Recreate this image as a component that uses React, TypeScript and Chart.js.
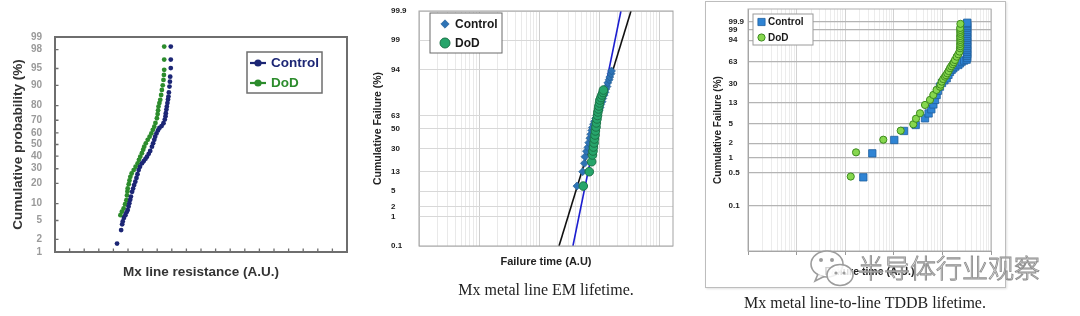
import React, { useEffect, useRef } from "react";
import { Chart, registerables } from "chart.js";

Chart.register(...registerables);

// ---------------- Panel 1: Mx line resistance (normal probability plot) ----------------
const p1YTicks = [1, 2, 5, 10, 20, 30, 40, 50, 60, 70, 80, 90, 95, 98, 99];
const p1ControlR = [4.25, 4.53, 4.6, 4.64, 4.72, 4.82, 4.9, 4.98, 5.04, 5.09, 5.15, 5.2, 5.28, 5.35, 5.42, 5.5, 5.58, 5.65, 5.73, 5.82, 5.96, 6.08, 6.2, 6.3, 6.42, 6.52, 6.64, 6.72, 6.8, 6.86, 6.95, 7.05, 7.15, 7.3, 7.43, 7.52, 7.57, 7.59, 7.63, 7.66, 7.7, 7.74, 7.77, 7.8, 7.84, 7.87, 7.89, 7.93, 7.93, 7.93];
const p1ControlP = [1.6, 3.2, 4.2, 4.8, 5.6, 6.3, 7.1, 7.8, 9.0, 10.2, 11.6, 13.0, 15.3, 17.0, 19.0, 21.0, 23.5, 26.0, 29.0, 31.5, 34.2, 36.0, 37.8, 39.6, 42.0, 44.5, 48.1, 51.0, 54.0, 56.7, 59.5, 62.0, 64.0, 65.5, 67.7, 70.5, 73.0, 75.1, 77.5, 79.4, 81.5, 83.5, 85.0, 87.0, 89.5, 91.3, 92.9, 95.1, 96.7, 98.3];
const p1DodR = [4.48, 4.58, 4.7, 4.8, 4.89, 4.93, 4.96, 4.98, 5.05, 5.1, 5.16, 5.25, 5.39, 5.52, 5.66, 5.75, 5.84, 5.95, 6.04, 6.11, 6.22, 6.35, 6.48, 6.6, 6.7, 6.8, 6.88, 6.98, 7.03, 7.06, 7.09, 7.15, 7.21, 7.27, 7.32, 7.38, 7.43, 7.46, 7.48, 7.48, 7.48];
const p1DodP = [6.3, 7.3, 8.3, 9.8, 11.4, 13.5, 15.5, 17.1, 19.5, 21.8, 24.2, 26.5, 29.0, 31.5, 34.2, 37.0, 39.6, 42.5, 45.5, 48.1, 51.0, 54.0, 56.7, 59.5, 62.5, 65.0, 68.0, 71.5, 74.5, 77.0, 79.4, 81.5, 83.3, 85.8, 88.1, 90.0, 91.9, 93.4, 94.7, 96.7, 98.3];

// ---------------- Panel 2: EM lifetime (lognormal plot) ----------------
const p2YTicks = [0.1, 1, 2, 5, 13, 30, 50, 63, 94, 99, 99.9];
const p2ControlT = [421, 524, 561, 572, 605, 640, 662, 690, 715, 742, 760, 795, 830, 862, 900, 930, 985, 1020, 1045, 1100, 1130, 1190, 1235, 1270, 1330, 1370, 1440, 1480, 1550, 1580];
const p2ControlF = [6.5, 12.8, 18.0, 22.9, 27.5, 31.0, 35.5, 40.0, 44.0, 48.0, 51.0, 54.5, 57.5, 60.5, 63.0, 65.5, 68.5, 71.0, 73.5, 76.0, 78.5, 81.0, 83.0, 85.0, 86.5, 88.5, 90.0, 91.2, 92.5, 93.5];
const p2DodT = [536, 674, 739, 762, 777, 790, 810, 820, 840, 852, 872, 885, 905, 925, 938, 960, 975, 998, 1015, 1055, 1095, 1140, 1160];
const p2DodF = [6.5, 12.8, 19.1, 24.3, 27.7, 31.3, 35.2, 39.1, 43.2, 47.4, 51.6, 55.8, 59.9, 63.4, 66.8, 69.6, 72.3, 74.9, 77.3, 79.2, 81.1, 82.8, 84.4];
const p2FitF = [0.1, 99.9];
const p2FitBlackT = [212, 3327];
const p2FitBlueT = [361, 2265];
const p2XRange = [1, 16600];

// ---------------- Panel 3: TDDB lifetime (Weibull plot) ----------------
const p3YTicks = [0.1, 0.5, 1, 2, 5, 13, 30, 63, 94, 99, 99.9];
const p3YRange = [0.0116, 99.99965];
const p3XRange = [1, 100000];
const p3ControlT = [236, 361, 1023, 1622, 2823, 4385, 5200, 5916, 6500, 7047, 7600, 8117, 8900, 9817, 11000, 12250, 13300, 14320, 15500, 16750, 18500, 21230, 23000, 24940, 28000, 31500, 32500, 32000, 32500, 32000, 32500, 32000, 32500, 32000, 32500, 32000, 32500, 32000, 32500, 32000, 32500, 32000, 32500, 32000, 32500];
const p3ControlF = [0.395, 1.24, 2.34, 3.58, 4.74, 6.47, 8.1, 9.8, 12.2, 14.9, 18.5, 22.2, 26.3, 30.5, 33.8, 36.6, 41.5, 46.0, 49.5, 52.0, 55.0, 57.7, 60.5, 63.5, 65.5, 67.0, 70.0, 73.5, 76.7, 80.0, 82.9, 85.5, 88.2, 90.5, 92.5, 94.3, 95.7, 96.8, 97.8, 98.5, 99.0, 99.4, 99.62, 99.78, 99.85];
const p3DodT = [130, 167, 608, 1387, 2518, 2863, 3460, 4385, 5560, 6500, 7570, 8930, 9200, 9675, 10400, 11300, 11900, 12600, 13400, 14330, 15200, 16290, 17200, 18160, 19680, 21230, 22500, 23010, 23400, 23200, 23500, 23300, 23400, 23200, 23500, 23300, 23400, 23200, 23500];
const p3DodF = [0.41, 1.3, 2.37, 3.63, 4.9, 6.35, 8.16, 11.9, 14.9, 18.5, 22.9, 26.2, 28.5, 32.1, 35.5, 38.8, 41.0, 43.9, 47.5, 52.1, 55.5, 59.1, 62.5, 66.5, 72.2, 76.3, 80.5, 85.3, 88.0, 90.5, 92.5, 94.2, 95.6, 96.8, 97.8, 98.5, 99.0, 99.37, 99.79];

// ---------------- helpers ----------------
const SANS = "'Liberation Sans', Arial, Helvetica, sans-serif";

function probit(p: number): number {
  const a = [-39.69683028665376, 220.9460984245205, -275.9285104469687, 138.357751867269, -30.66479806614716, 2.506628277459239];
  const b = [-54.47609879822406, 161.5858368580409, -155.6989798598866, 66.80131188771972, -13.28068155288572];
  const c = [-0.007784894002430293, -0.3223964580411365, -2.400758277161838, -2.549671324908904, 4.374664141464968, 2.938163982698783];
  const d = [0.007784695709041462, 0.3224671290700398, 2.445134137142996, 3.754408661907416];
  const pl = 0.02425;
  if (p < pl) {
    const q = Math.sqrt(-2 * Math.log(p));
    return (((((c[0] * q + c[1]) * q + c[2]) * q + c[3]) * q + c[4]) * q + c[5]) / ((((d[0] * q + d[1]) * q + d[2]) * q + d[3]) * q + 1);
  }
  if (p <= 1 - pl) {
    const q = p - 0.5;
    const r = q * q;
    return ((((((a[0] * r + a[1]) * r + a[2]) * r + a[3]) * r + a[4]) * r + a[5]) * q) / (((((b[0] * r + b[1]) * r + b[2]) * r + b[3]) * r + b[4]) * r + 1);
  }
  const q = Math.sqrt(-2 * Math.log(1 - p));
  return -(((((c[0] * q + c[1]) * q + c[2]) * q + c[3]) * q + c[4]) * q + c[5]) / ((((d[0] * q + d[1]) * q + d[2]) * q + d[3]) * q + 1);
}
function weibit(p: number): number {
  return Math.log(-Math.log(1 - p));
}
const pct = (f: (p: number) => number) => (v: number) => f(v / 100);
const zN = pct(probit);
const zW = pct(weibit);

function pts(xs: number[], ps: number[], tf: (v: number) => number) {
  return xs.map((x, i) => ({ x, y: tf(ps[i]) }));
}
function logTicks(min: number, max: number) {
  const out: { value: number; major: boolean }[] = [];
  for (let e = Math.floor(Math.log10(min)); e <= Math.ceil(Math.log10(max)); e++) {
    for (let m = 1; m < 10; m++) {
      const v = m * Math.pow(10, e);
      if (v >= min * 0.999999 && v <= max * 1.000001) out.push({ value: v, major: m === 1 });
    }
  }
  return out;
}

function framePlugin(color: string, width: number) {
  return {
    id: "frameBox",
    afterDraw(chart: any) {
      const { ctx, chartArea: a } = chart;
      ctx.save();
      ctx.strokeStyle = color;
      ctx.lineWidth = width;
      ctx.strokeRect(a.left, a.top, a.right - a.left, a.bottom - a.top);
      ctx.restore();
    },
  };
}

function inwardTicksPlugin(color: string, len: number) {
  return {
    id: "inwardTicks",
    afterDraw(chart: any) {
      const { ctx, chartArea: a, scales } = chart;
      ctx.save();
      ctx.strokeStyle = color;
      ctx.lineWidth = 1.3;
      ctx.beginPath();
      for (const t of scales.x.ticks) {
        const px = scales.x.getPixelForValue(t.value);
        if (px <= a.left + 2 || px >= a.right - 2) continue;
        ctx.moveTo(px, a.bottom);
        ctx.lineTo(px, a.bottom - len);
      }
      for (const t of scales.y.ticks) {
        const py = scales.y.getPixelForValue(t.value);
        if (py <= a.top + 2 || py >= a.bottom - 2) continue;
        ctx.moveTo(a.left, py);
        ctx.lineTo(a.left + len, py);
      }
      ctx.stroke();
      ctx.restore();
    },
  };
}

type LegendSpec = {
  x: number; y: number; w: number; h: number;
  border: string; borderWidth: number;
  font: string; markerX: number; textX: number;
  rows: { ds: number; y: number; text: string; marker: string; size: number }[];
};

function legendPlugin(spec: LegendSpec) {
  return {
    id: "boxLegend",
    afterDraw(chart: any) {
      const ctx = chart.ctx;
      ctx.save();
      ctx.fillStyle = "#ffffff";
      ctx.fillRect(spec.x, spec.y, spec.w, spec.h);
      ctx.strokeStyle = spec.border;
      ctx.lineWidth = spec.borderWidth;
      ctx.strokeRect(spec.x, spec.y, spec.w, spec.h);
      for (const row of spec.rows) {
        const ds = chart.data.datasets[row.ds];
        const mx = spec.markerX;
        const my = row.y;
        const s = row.size;
        ctx.fillStyle = ds.backgroundColor;
        ctx.strokeStyle = ds.borderColor;
        ctx.lineWidth = ds.pointBorderWidth || 1;
        ctx.beginPath();
        if (row.marker === "lineDot") {
          ctx.save();
          ctx.strokeStyle = ds.backgroundColor;
          ctx.lineWidth = 2.2;
          ctx.moveTo(mx - 8, my);
          ctx.lineTo(mx + 8, my);
          ctx.stroke();
          ctx.restore();
          ctx.beginPath();
          ctx.arc(mx, my, s, 0, Math.PI * 2);
          ctx.fill();
        } else if (row.marker === "diamond") {
          ctx.moveTo(mx, my - s);
          ctx.lineTo(mx + s, my);
          ctx.lineTo(mx, my + s);
          ctx.lineTo(mx - s, my);
          ctx.closePath();
          ctx.fill();
          if (ds.pointBorderWidth) ctx.stroke();
        } else if (row.marker === "square") {
          ctx.rect(mx - s, my - s, 2 * s, 2 * s);
          ctx.fill();
          if (ds.pointBorderWidth) ctx.stroke();
        } else {
          ctx.arc(mx, my, s, 0, Math.PI * 2);
          ctx.fill();
          if (ds.pointBorderWidth) ctx.stroke();
        }
        ctx.fillStyle = row.text;
        ctx.font = spec.font;
        ctx.textAlign = "left";
        ctx.textBaseline = "middle";
        ctx.fillText(ds.label, spec.textX, my + 0.5);
      }
      ctx.restore();
    },
  };
}

// ---------------- chart configs ----------------
function panel1(): any {
  const navy = "#1c2675";
  const green = "#2c8c2c";
  return {
    type: "scatter",
    data: {
      datasets: [
        { label: "Control", data: pts(p1ControlR, p1ControlP, zN), backgroundColor: navy, borderColor: navy, pointRadius: 2.4, pointBorderWidth: 0 },
        { label: "DoD", data: pts(p1DodR, p1DodP, zN), backgroundColor: green, borderColor: green, pointRadius: 2.4, pointBorderWidth: 0 },
      ],
    },
    options: {
      responsive: false,
      animation: false,
      devicePixelRatio: 1,
      events: [],
      layout: { padding: { left: 0, top: 37, right: 13, bottom: 0 } },
      plugins: { legend: { display: false }, tooltip: { enabled: false } },
      scales: {
        x: {
          type: "linear", min: 0, max: 20,
          ticks: { display: false, stepSize: 1 },
          grid: { display: false }, border: { display: false },
          title: { display: true, text: "Mx line resistance (A.U.)", color: "#333333", font: { family: SANS, size: 13.5, weight: "bold" }, padding: { top: 0, bottom: 10 } },
          afterFit: (s: any) => { s.height = 38; },
        },
        y: {
          type: "linear", min: zN(1), max: zN(99),
          afterBuildTicks: (s: any) => { s.ticks = p1YTicks.map((v) => ({ value: zN(v) })); },
          ticks: { autoSkip: false, padding: 5, color: "#9a9a9a", font: { family: SANS, size: 10, weight: "bold" }, callback: (_v: any, i: number) => String(p1YTicks[i]) },
          grid: { display: false }, border: { display: false },
          title: { display: true, text: "Cumulative probability (%)", color: "#333333", font: { family: SANS, size: 13.5, weight: "bold" }, padding: { top: 10, bottom: 0 } },
          afterFit: (s: any) => { s.width = 55; },
        },
      },
    },
    plugins: [
      framePlugin("#6e6e6e", 2),
      inwardTicksPlugin("#6e6e6e", 3.5),
      legendPlugin({
        x: 247, y: 52, w: 75, h: 41, border: "#6e6e6e", borderWidth: 1.5,
        font: `bold 13.5px ${SANS}`, markerX: 258, textX: 271,
        rows: [
          { ds: 0, y: 63, text: navy, marker: "lineDot", size: 3.6 },
          { ds: 1, y: 83, text: green, marker: "lineDot", size: 3.6 },
        ],
      }),
    ],
  };
}

function panel2(): any {
  const blue = "#2e73b5";
  const green = "#27a56b";
  const [xmin, xmax] = p2XRange;
  return {
    type: "scatter",
    data: {
      datasets: [
        { label: "Control", data: pts(p2ControlT, p2ControlF, zN), pointStyle: "rectRot", backgroundColor: blue, borderColor: "#225a8f", pointBorderWidth: 0.6, pointRadius: 4, order: 1 },
        { label: "DoD", data: pts(p2DodT, p2DodF, zN), pointStyle: "circle", backgroundColor: green, borderColor: "#1a7347", pointBorderWidth: 1, pointRadius: 4.3, order: 0 },
        { label: "Control fit", data: pts(p2FitBlackT, p2FitF, zN), showLine: true, borderColor: "#111111", backgroundColor: "#111111", borderWidth: 1.6, pointRadius: 0, order: 2 },
        { label: "DoD fit", data: pts(p2FitBlueT, p2FitF, zN), showLine: true, borderColor: "#1c1ed0", backgroundColor: "#1c1ed0", borderWidth: 1.6, pointRadius: 0, order: 2 },
      ],
    },
    options: {
      responsive: false,
      animation: false,
      devicePixelRatio: 1,
      events: [],
      layout: { padding: { left: 36, top: 11, right: 12, bottom: 0 } },
      plugins: { legend: { display: false }, tooltip: { enabled: false } },
      scales: {
        x: {
          type: "logarithmic", min: xmin, max: xmax,
          afterBuildTicks: (s: any) => { s.ticks = logTicks(xmin, xmax); },
          ticks: { display: false, autoSkip: false },
          grid: { drawTicks: false, color: (c: any) => (c.tick && c.tick.major ? "#cfcfcf" : "#e9e9e9"), lineWidth: 1 },
          border: { display: false },
          title: { display: true, text: "Failure time (A.U)", color: "#222222", font: { family: SANS, size: 11, weight: "bold" }, padding: { top: 0, bottom: 6.4 } },
          afterFit: (s: any) => { s.height = 29; },
        },
        y: {
          type: "linear", min: zN(0.1), max: zN(99.9),
          afterBuildTicks: (s: any) => { s.ticks = p2YTicks.map((v) => ({ value: zN(v) })); },
          ticks: { autoSkip: false, crossAlign: "far", color: "#222222", font: { family: SANS, size: 8, weight: "bold" }, callback: (_v: any, i: number) => String(p2YTicks[i]) },
          grid: { drawTicks: false, color: "#d8d8d8" },
          border: { display: false },
          title: { display: true, text: "Cumulative Failure (%)", color: "#222222", font: { family: SANS, size: 10.5, weight: "bold" }, padding: { top: -19.3, bottom: 0 } },
          afterFit: (s: any) => { s.width = 28; },
        },
      },
    },
    plugins: [
      framePlugin("#a3a3a3", 1),
      legendPlugin({
        x: 75, y: 13, w: 72, h: 40, border: "#6a6a6a", borderWidth: 1,
        font: `bold 12px ${SANS}`, markerX: 90, textX: 100,
        rows: [
          { ds: 0, y: 24, text: "#1a1a1a", marker: "diamond", size: 4.2 },
          { ds: 1, y: 43, text: "#1a1a1a", marker: "circle", size: 5 },
        ],
      }),
    ],
  };
}

function panel3(): any {
  const blue = "#2f84d4";
  const green = "#86d74e";
  const [xmin, xmax] = p3XRange;
  return {
    type: "scatter",
    data: {
      datasets: [
        { label: "Control", data: pts(p3ControlT, p3ControlF, zW), pointStyle: "rect", backgroundColor: blue, borderColor: "#1f5f9e", pointBorderWidth: 0.8, pointRadius: 5.2, order: 1 },
        { label: "DoD", data: pts(p3DodT, p3DodF, zW), pointStyle: "circle", backgroundColor: green, borderColor: "#3d8a1f", pointBorderWidth: 1, pointRadius: 3.6, order: 0 },
      ],
    },
    options: {
      responsive: false,
      animation: false,
      devicePixelRatio: 1,
      events: [],
      layout: { padding: { left: 28.5, top: 9, right: 19, bottom: 0 } },
      plugins: { legend: { display: false }, tooltip: { enabled: false } },
      scales: {
        x: {
          type: "logarithmic", min: xmin, max: xmax,
          afterBuildTicks: (s: any) => { s.ticks = logTicks(xmin, xmax); },
          ticks: { display: false, autoSkip: false },
          grid: {
            drawTicks: true, tickLength: 4,
            color: (c: any) => (c.tick && c.tick.major ? "#d2d2d2" : "#ececec"),
            tickColor: (c: any) => (c.tick && c.tick.major ? "#999999" : "rgba(0,0,0,0)"),
          },
          border: { display: true, color: "#9a9a9a", width: 1 },
          title: { display: true, text: "Failure time (A.U.)", color: "#222222", font: { family: SANS, size: 10.5, weight: "bold" }, padding: { top: 0, bottom: 11.7 } },
          afterFit: (s: any) => { s.height = 39; },
        },
        y: {
          type: "linear", min: zW(p3YRange[0]), max: zW(p3YRange[1]),
          afterBuildTicks: (s: any) => { s.ticks = p3YTicks.map((v) => ({ value: zW(v) })); },
          ticks: { autoSkip: false, crossAlign: "far", color: "#222222", font: { family: SANS, size: 8, weight: "bold" }, callback: (_v: any, i: number) => String(p3YTicks[i]) },
          grid: { drawTicks: false, color: "#b4b4b4", lineWidth: 1.2 },
          border: { display: true, color: "#9a9a9a", width: 1 },
          title: { display: true, text: "Cumulative Failure (%)", color: "#222222", font: { family: SANS, size: 10, weight: "bold" }, padding: { top: -16.2, bottom: 0 } },
          afterFit: (s: any) => { s.width = 19.5; },
        },
      },
    },
    plugins: [
      framePlugin("#b0b0b0", 1),
      legendPlugin({
        x: 53, y: 14, w: 60, h: 31, border: "#9a9a9a", borderWidth: 1,
        font: `bold 10px ${SANS}`, markerX: 61.5, textX: 68,
        rows: [
          { ds: 0, y: 22, text: "#1a1a1a", marker: "square", size: 3.6 },
          { ds: 1, y: 37.5, text: "#1a1a1a", marker: "circle", size: 3.6 },
        ],
      }),
    ],
  };
}

function ChartBox(props: { left: number; top: number; width: number; height: number; make: () => any }) {
  const ref = useRef<HTMLCanvasElement | null>(null);
  useEffect(() => {
    const chart = new Chart(ref.current as HTMLCanvasElement, props.make());
    return () => chart.destroy();
  }, []);
  return (
    <canvas
      ref={ref}
      width={props.width}
      height={props.height}
      style={{ position: "absolute", left: props.left, top: props.top, width: props.width, height: props.height }}
    />
  );
}

export default function App() {
  const serif = "'Liberation Serif', 'Times New Roman', Times, serif";
  return (
    <div style={{ position: "fixed", left: 0, top: 0, width: 1080, height: 316, background: "#ffffff", overflow: "hidden" }}>
      <ChartBox left={0} top={0} width={360} height={290} make={panel1} />
      <ChartBox left={355} top={0} width={330} height={275} make={panel2} />
      <div style={{ position: "absolute", left: 705, top: 1, width: 301, height: 287, border: "1.5px solid #bdbdbd", boxSizing: "border-box", boxShadow: "1px 1px 2px rgba(0,0,0,0.12)" }} />
      <ChartBox left={700} top={0} width={310} height={290} make={panel3} />
      <div style={{ position: "absolute", left: 436, top: 280, width: 220, textAlign: "center", fontFamily: serif, fontSize: 16, lineHeight: "20px", color: "#222" }}>
        Mx metal line EM lifetime.
      </div>
      <div style={{ position: "absolute", left: 705, top: 293, width: 320, textAlign: "center", fontFamily: serif, fontSize: 16, lineHeight: "20px", color: "#222" }}>
        Mx metal line-to-line TDDB lifetime.
      </div>
      <svg style={{ position: "absolute", left: 808, top: 247 }} width={48} height={44} viewBox="0 0 48 44">
        <ellipse cx="19" cy="17" rx="16" ry="13" fill="rgba(255,255,255,0.8)" stroke="#9c9c9c" strokeWidth="1.6" />
        <path d="M10 27 L7 34 L16 29.5" fill="rgba(255,255,255,0.8)" stroke="#9c9c9c" strokeWidth="1.6" />
        <circle cx="13" cy="13" r="2" fill="#9c9c9c" />
        <circle cx="24" cy="13" r="2" fill="#9c9c9c" />
        <ellipse cx="32" cy="28" rx="13" ry="10.5" fill="rgba(255,255,255,0.85)" stroke="#9c9c9c" strokeWidth="1.6" />
        <circle cx="28" cy="26" r="1.6" fill="#9c9c9c" />
        <circle cx="36" cy="26" r="1.6" fill="#9c9c9c" />
      </svg>
      <div style={{ position: "absolute", left: 858, top: 251, fontFamily: "'Noto Sans CJK SC', sans-serif", fontSize: 26, lineHeight: "32px", fontWeight: 300, color: "rgba(255,255,255,0.8)", WebkitTextStroke: "0.9px #8e8e8e", whiteSpace: "nowrap" } as any}>
        半导体行业观察
      </div>
    </div>
  );
}
